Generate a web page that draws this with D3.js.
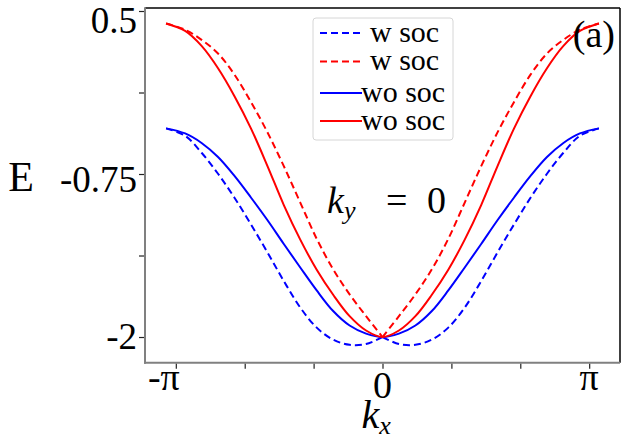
<!DOCTYPE html>
<html><head><meta charset="utf-8">
<script src="https://cdn.jsdelivr.net/npm/d3@7"></script>
<style>body{margin:0;background:#fff} svg{display:block}</style>
</head><body><svg id="c" width="630" height="440"></svg>
<script>
// ---- data ----
const kx = [-3.29,-3.0,-2.75,-2.5,-2.25,-2.0,-1.75,-1.5,-1.25,-1.0,-0.75,-0.5,-0.25,0,
            0.25,0.5,0.75,1.0,1.25,1.5,1.75,2.0,2.25,2.5,2.75,3.0,3.29];
// w soc, lower band (blue dashed)
const wSocLower = [-0.400,-0.457,-0.587,-0.748,-0.932,-1.136,-1.350,-1.571,-1.774,-1.928,-2.020,-2.060,-2.054,-2.0,
                   -2.054,-2.060,-2.020,-1.928,-1.774,-1.571,-1.350,-1.136,-0.932,-0.748,-0.587,-0.457,-0.400];
// w soc, upper band (red dashed)
const wSocUpper = [0.404,0.356,0.279,0.174,0.012,-0.197,-0.429,-0.690,-0.969,-1.247,-1.481,-1.673,-1.840,-2.0,
                   -1.840,-1.673,-1.481,-1.247,-0.969,-0.690,-0.429,-0.197,0.012,0.174,0.279,0.356,0.404];
// wo soc (blue solid)
const woSocLower = [-0.400,-0.439,-0.512,-0.620,-0.765,-0.930,-1.103,-1.287,-1.467,-1.643,-1.801,-1.912,-1.974,-2.0,
                    -1.974,-1.912,-1.801,-1.643,-1.467,-1.287,-1.103,-0.930,-0.765,-0.620,-0.512,-0.439,-0.400];
// wo soc (red solid)
const woSocUpper = [0.404,0.347,0.232,0.061,-0.153,-0.400,-0.687,-0.988,-1.253,-1.484,-1.676,-1.840,-1.950,-2.0,
                    -1.950,-1.840,-1.676,-1.484,-1.253,-0.988,-0.687,-0.400,-0.153,0.061,0.232,0.347,0.404];

const xTickValues = [-Math.PI,-2*Math.PI/3,-Math.PI/3,0,Math.PI/3,2*Math.PI/3,Math.PI];
const xTickLabels = ["-π","","","0","","","π"];
const yTickValues = [0.5,-0.125,-0.75,-1.375,-2];
const yTickLabels = ["0.5","","-0.75","","-2"];
const legendLabels = ["w soc","w soc","wo soc","wo soc"];

// ---- styles ----
const legendColors = ["#0000ff","#ff0000","#0000ff","#ff0000"];
const legendDashed = [true,true,false,false];
const yLabelDy = [22,0,18,0,12];

// ---- drawing ----
const svg = d3.select("#c");
const L = 145, R = 620, T = 8, B = 362.7;
const x = d3.scaleLinear().domain([-3.61,3.61]).range([L,R]);
const y = d3.scaleLinear().domain([-2.197,0.523]).range([B,T]);
const serif = "'Liberation Serif','Times New Roman',serif";

const series = [
  {v: wSocLower, c:"#0000ff", dash:true},
  {v: wSocUpper, c:"#ff0000", dash:true},
  {v: woSocLower, c:"#0000ff", dash:false},
  {v: woSocUpper, c:"#ff0000", dash:false}
];
const line = d3.line().x(d=>x(d[0])).y(d=>y(d[1])).curve(d3.curveCatmullRom.alpha(0.5));
series.forEach(s=>{
  const pts = kx.map((k,i)=>[k,s.v[i]]);
  const parts = s.dash ? [pts.filter(p=>p[0]<=0), pts.filter(p=>p[0]>=0)] : [pts];
  parts.forEach(p=>{
    svg.append("path").attr("d",line(p)).attr("fill","none")
      .attr("stroke",s.c).attr("stroke-width",2)
      .attr("stroke-dasharray", s.dash ? "7,4" : null);
  });
});

// spines
svg.append("line").attr("x1",L).attr("x2",R).attr("y1",T).attr("y2",T).attr("stroke","#000").attr("stroke-width",1.5);
svg.append("line").attr("x1",R).attr("x2",R).attr("y1",T).attr("y2",B).attr("stroke","#000").attr("stroke-width",1.5);
svg.append("line").attr("x1",L).attr("x2",L).attr("y1",T-0.75).attr("y2",B+1).attr("stroke","#808080").attr("stroke-width",2);
svg.append("line").attr("x1",L-1).attr("x2",R).attr("y1",B).attr("y2",B).attr("stroke","#808080").attr("stroke-width",2);

// ticks via axes
const gx = svg.append("g").attr("transform",`translate(0,${B+1})`)
  .call(d3.axisBottom(x).tickValues(xTickValues).tickSize(5).tickFormat(""));
const gy = svg.append("g").attr("transform",`translate(${L-1},0)`)
  .call(d3.axisLeft(y).tickValues(yTickValues).tickSize(5).tickFormat(""));
[gx,gy].forEach(g=>{ g.select(".domain").remove(); g.selectAll(".tick line").attr("stroke","#222").attr("stroke-width",1.2); });

// tick labels
yTickValues.forEach((v,i)=>{
  if(!yTickLabels[i]) return;
  svg.append("text").attr("x",137).attr("y",y(v)+yLabelDy[i]).attr("text-anchor","end")
    .attr("font-family",serif).attr("font-size",37).text(yTickLabels[i]);
});
xTickValues.forEach((v,i)=>{
  const t = xTickLabels[i]; if(!t) return;
  const dx = t==="-π" ? -12 : 0;
  svg.append("text").attr("x",x(v)+dx).attr("y", t==="0" ? 398 : 390).attr("text-anchor","middle")
    .attr("font-family",serif).attr("font-size",38).text(t);
});

// axis labels
svg.append("text").attr("x",21).attr("y",191).attr("text-anchor","middle")
  .attr("font-family",serif).attr("font-size",42).text("E");
const xl = svg.append("text").attr("x",x(0)-21).attr("y",428).attr("font-family",serif).attr("font-size",40);
xl.append("tspan").attr("font-style","italic").text("k");
xl.append("tspan").attr("font-style","italic").attr("font-size",26).attr("dy",6).text("x");

// annotations
const ky = svg.append("text").attr("x",327).attr("y",213).attr("font-family",serif).attr("font-size",38);
ky.append("tspan").attr("font-style","italic").text("k");
ky.append("tspan").attr("font-style","italic").attr("font-size",26).attr("dy",6).text("y");
ky.append("tspan").attr("x",386).attr("dy",-6).text("=");
ky.append("tspan").attr("x",427).text("0");
svg.append("text").attr("x",615).attr("y",47).attr("text-anchor","end")
  .attr("font-family",serif).attr("font-size",38).text("(a)");

// legend
svg.append("rect").attr("x",313).attr("y",18).attr("width",140).attr("height",122).attr("rx",3)
  .attr("fill","#fff").attr("fill-opacity",0.8).attr("stroke","#d6d6d6").attr("stroke-width",1);
const rowY = [33,61.5,93,121];
legendLabels.forEach((lab,i)=>{
  svg.append("line").attr("x1",320).attr("x2",legendDashed[i]?360:362).attr("y1",rowY[i]).attr("y2",rowY[i])
    .attr("stroke",legendColors[i]).attr("stroke-width",2).attr("stroke-dasharray",legendDashed[i]?"7,4":null);
  svg.append("text").attr("x",legendDashed[i]?370:361).attr("y",rowY[i]+8.5)
    .attr("font-family",serif).attr("font-size",30).text(lab);
});
</script></body></html>
